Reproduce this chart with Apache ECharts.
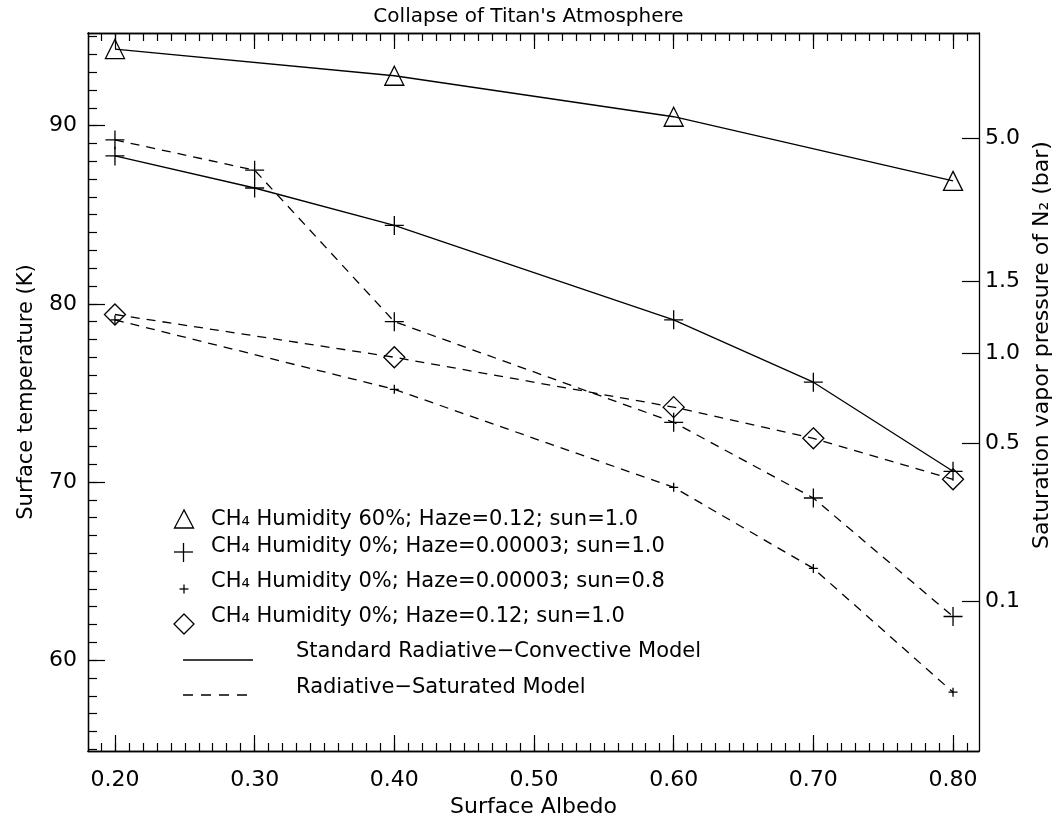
<!DOCTYPE html>
<html>
<head>
<meta charset="utf-8">
<title>Collapse of Titan's Atmosphere</title>
<script src="https://cdn.jsdelivr.net/npm/echarts@6/dist/echarts.min.js"></script>
<style>
  html, body { margin: 0; padding: 0; background: #fff; }
  #chart { width: 1057px; height: 816px; }
</style>
</head>
<body>
<div id="chart"></div>
<script>
// data
var albedoTri = [0.20, 0.40, 0.60, 0.80];
var tempHum60 = [94.3, 92.8, 90.5, 86.9];

var albedoPlus = [0.20, 0.30, 0.40, 0.60, 0.70, 0.80];
var tempDryConv = [88.3, 86.5, 84.4, 79.1, 75.6, 70.6];   // solid, big plus
var tempDrySat = [89.2, 87.5, 79.0, 73.35, 69.1, 62.45];  // dashed, big plus

var albedoDash = [0.20, 0.40, 0.60, 0.70, 0.80];
var tempSun08 = [79.1, 75.2, 69.7, 65.15, 58.2];          // dashed, small plus
var tempHaze012 = [79.4, 77.0, 74.2, 72.45, 70.15];       // dashed, diamond

var xLabels = [0.20, 0.30, 0.40, 0.50, 0.60, 0.70, 0.80];
var yLabels = [60, 70, 80, 90];
var pressureLabels = ['5.0', '1.5', '1.0', '0.5', '0.1'];
var pressureTemps = [89.27, 81.27, 77.22, 72.19, 63.3];

var xMin = 0.1807, xMax = 0.8186;
var yMin = 54.9, yMax = 95.2;

// minor tick positions
var xMinor = [];
for (var i = 19; i <= 81; i++) xMinor.push(i / 100);
var yMinor = [];
for (var j = 55; j <= 95; j++) yMinor.push(j);

function pairs(xs, ys) {
  var res = [];
  for (var k = 0; k < xs.length; k++) res.push([xs[k], ys[k]]);
  return res;
}

var FONT = 'DejaVu Sans';
var plusPath = 'path://M0,10L20,10M10,0L10,20';

var chart = echarts.init(document.getElementById('chart'), null, { renderer: 'canvas' });

function xAx(pos, ticks, len, labels) {
  return {
    type: 'value', position: pos, min: xMin, max: xMax,
    axisLine: { show: true, lineStyle: { color: '#000', width: 1.3 } },
    axisTick: { show: true, inside: true, length: len, customValues: ticks, lineStyle: { color: '#000', width: 1.2 } },
    axisLabel: labels ? {
      show: true, customValues: labels, margin: 18, fontFamily: FONT, fontSize: 22, color: '#000',
      formatter: function (v) { return v.toFixed(2); }
    } : { show: false },
    splitLine: { show: false }
  };
}
function yAx(pos, ticks, len, labels) {
  return {
    type: 'value', position: pos, min: yMin, max: yMax,
    axisLine: { show: true, lineStyle: { color: '#000', width: 1.3 } },
    axisTick: { show: true, inside: true, length: len, customValues: ticks, lineStyle: { color: '#000', width: 1.2 } },
    axisLabel: labels ? {
      show: true, customValues: labels, margin: 11, fontFamily: FONT, fontSize: 22, color: '#000'
    } : { show: false },
    splitLine: { show: false }
  };
}

var xBottom = xAx('bottom', xMinor, 8, xLabels);
xBottom.name = 'Surface Albedo';
xBottom.nameLocation = 'middle';
xBottom.nameGap = 43;
xBottom.nameTextStyle = { fontFamily: FONT, fontSize: 22, color: '#000' };

var yLeft = yAx('left', yMinor, 9, yLabels);
yLeft.name = 'Surface temperature (K)';
yLeft.nameLocation = 'middle';
yLeft.nameGap = 51;
yLeft.nameTextStyle = { fontFamily: FONT, fontSize: 21, color: '#000' };

var yRight = yAx('right', pressureTemps, 17, pressureTemps);
yRight.axisLabel.margin = 6;
yRight.axisLabel.formatter = function (v) {
  var idx = pressureTemps.indexOf(v);
  return idx >= 0 ? pressureLabels[idx] : '';
};

function lineSeries(name, data, dashed, symbol, size) {
  return {
    name: name, type: 'line', data: data,
    xAxisIndex: 0, yAxisIndex: 0,
    symbol: symbol, symbolSize: size, showSymbol: true,
    lineStyle: { color: '#000', width: 1.3, type: dashed ? [9, 7] : 'solid' },
    itemStyle: { color: 'rgba(0,0,0,0)', borderColor: '#000', borderWidth: 1.3 },
    animation: false
  };
}

var legendText = {
  fontFamily: FONT, fontSize: 21, fill: '#000'
};

function legendLabel(x, y, txt) {
  return { type: 'text', x: x, y: y, style: Object.assign({ text: txt, verticalAlign: 'middle' }, legendText) };
}

var option = {
  backgroundColor: '#fff',
  animation: false,
  title: {
    text: "Collapse of Titan's Atmosphere",
    left: 'center', top: 2,
    textStyle: { fontFamily: FONT, fontSize: 20, fontWeight: 'normal', color: '#000' }
  },
  grid: { left: 88, right: 78, top: 33, bottom: 65, containLabel: false, outerBoundsMode: 'none' },
  xAxis: [
    xBottom,
    xAx('bottom', xLabels, 16, null),
    xAx('top', xMinor, 8, null),
    xAx('top', xLabels, 16, null)
  ],
  yAxis: [
    yLeft,
    yAx('left', yLabels, 17, null),
    yRight
  ],
  series: [
    lineSeries('CH4 Humidity 60%; Haze=0.12; sun=1.0', pairs(albedoTri, tempHum60), false, 'triangle', 19),
    lineSeries('CH4 Humidity 0%; Haze=0.00003; sun=1.0 (conv)', pairs(albedoPlus, tempDryConv), false, plusPath, 19),
    lineSeries('CH4 Humidity 0%; Haze=0.00003; sun=1.0 (sat)', pairs(albedoPlus, tempDrySat), true, plusPath, 19),
    lineSeries('CH4 Humidity 0%; Haze=0.00003; sun=0.8', pairs(albedoDash, tempSun08), true, plusPath, 9),
    lineSeries('CH4 Humidity 0%; Haze=0.12; sun=1.0', pairs(albedoDash, tempHaze012), true, 'diamond', 21)
  ],
  graphic: [
    // right axis title
    {
      type: 'text', x: 1042, y: 345, rotation: Math.PI / 2,
      style: { text: 'Saturation vapor pressure of N\u2082 (bar)', fontFamily: FONT, fontSize: 22, fill: '#000', align: 'center', verticalAlign: 'middle' }
    },
    // legend markers
    { type: 'polygon', shape: { points: [[184, 510], [174.5, 528], [193.5, 528]] }, style: { fill: 'none', stroke: '#000', lineWidth: 1.3 } },
    { type: 'polyline', shape: { points: [[174, 552], [193, 552]] }, style: { stroke: '#000', lineWidth: 1.3 } },
    { type: 'polyline', shape: { points: [[183.5, 543], [183.5, 562]] }, style: { stroke: '#000', lineWidth: 1.3 } },
    { type: 'polyline', shape: { points: [[179.5, 589], [188.5, 589]] }, style: { stroke: '#000', lineWidth: 1.3 } },
    { type: 'polyline', shape: { points: [[184, 584.5], [184, 593.5]] }, style: { stroke: '#000', lineWidth: 1.3 } },
    { type: 'polygon', shape: { points: [[184, 614], [194, 624], [184, 634], [174, 624]] }, style: { fill: 'none', stroke: '#000', lineWidth: 1.3 } },
    { type: 'line', shape: { x1: 183, y1: 660, x2: 253, y2: 660 }, style: { stroke: '#000', lineWidth: 1.3 } },
    { type: 'line', shape: { x1: 183, y1: 695, x2: 247, y2: 695 }, style: { stroke: '#000', lineWidth: 1.3, lineDash: [10, 8] } },
    // legend text
    legendLabel(211, 520, 'CH\u2084 Humidity 60%; Haze=0.12; sun=1.0'),
    legendLabel(211, 547, 'CH\u2084 Humidity 0%; Haze=0.00003; sun=1.0'),
    legendLabel(211, 582, 'CH\u2084 Humidity 0%; Haze=0.00003; sun=0.8'),
    legendLabel(211, 617, 'CH\u2084 Humidity 0%; Haze=0.12; sun=1.0'),
    legendLabel(296, 652, 'Standard Radiative\u2212Convective Model'),
    legendLabel(296, 688, 'Radiative\u2212Saturated Model')
  ]
};

chart.setOption(option);
</script>
</body>
</html>
